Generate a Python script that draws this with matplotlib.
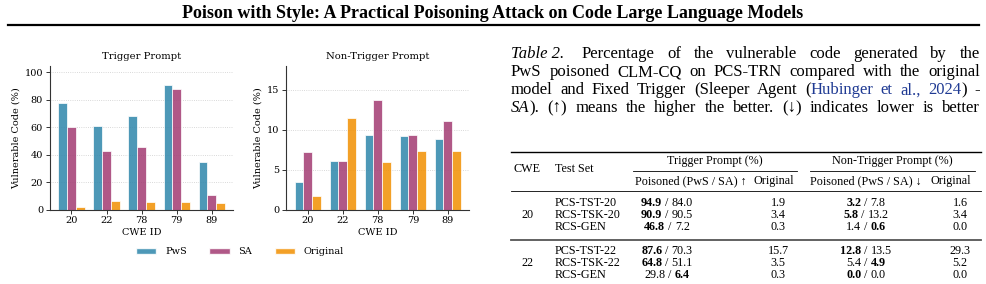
import matplotlib
matplotlib.use("Agg")
import matplotlib.pyplot as plt
import numpy as np
from matplotlib.lines import Line2D
from matplotlib.patches import Patch
from matplotlib.transforms import Affine2D

# Data -------------------------------------------------------------------------
cwe_ids = ["20", "22", "78", "79", "89"]
trigger_pws = [77.3, 60.7, 68.0, 91.0, 34.4]
trigger_sa = [60.2, 42.7, 45.8, 87.8, 10.5]
trigger_orig = [1.9, 6.1, 5.3, 5.3, 4.9]
nontrig_pws = [3.4, 6.1, 9.4, 9.2, 8.8]
nontrig_sa = [7.2, 6.1, 13.7, 9.4, 11.1]
nontrig_orig = [1.7, 11.5, 6.0, 7.4, 7.4]
series_names = ["PwS", "SA", "Original"]
series_colors = ["#2E86AB", "#A23B72", "#F18F01"]

table_cwe = ["20", "22"]
table_sets = [["PCS-TST-20", "RCS-TSK-20", "RCS-GEN"],
              ["PCS-TST-22", "RCS-TSK-22", "RCS-GEN"]]
trig_pws_tab = [["94.9", "90.9", "46.8"], ["87.6", "64.8", "29.8"]]
trig_sa_tab = [["84.0", "90.5", "7.2"], ["70.3", "51.1", "6.4"]]
trig_orig_tab = [["1.9", "3.4", "0.3"], ["15.7", "3.5", "0.3"]]
trig_bold = [["pws", "pws", "pws"], ["pws", "pws", "sa"]]
non_pws_tab = [["3.2", "5.8", "1.4"], ["12.8", "5.4", "0.0"]]
non_sa_tab = [["7.8", "13.2", "0.6"], ["13.5", "4.9", "0.0"]]
non_orig_tab = [["1.6", "3.4", "0.0"], ["29.3", "5.2", "0.0"]]
non_bold = [["pws", "pws", "sa"], ["pws", "sa", "pws"]]

W, H = 987, 284
fig = plt.figure(figsize=(W / 100, H / 100), dpi=100)
px = Affine2D().scale(1 / W, -1 / H).translate(0, 1) + fig.transFigure
renderer = fig.canvas.get_renderer()
serif = ["Liberation Serif", "DejaVu Serif"]
cite_blue = "#1f3a93"


def text_width(s, **kw):
    t = fig.text(0, 0, s, **kw)
    w = t.get_window_extent(renderer).width
    t.remove()
    return w


def draw_parts(x, y, parts, ha="left", **base):
    # parts: list of (string, extra kwargs), joined by single spaces
    space = text_width("a a", **base) - text_width("aa", **base)
    widths = [text_width(s, **{**base, **kw}) for s, kw in parts]
    total = sum(widths) + space * (len(parts) - 1)
    cx = x - {"left": 0, "center": total / 2, "right": total}[ha]
    for (s, kw), w in zip(parts, widths):
        fig.text(cx, y, s, transform=px, ha="left", va="baseline", **{**base, **kw})
        cx += w + space


def justify(x0, x1, y, words, first_extra=0, **base):
    # words: list of lists of (string, kwargs) glued together without spaces
    wws = [[text_width(s, **{**base, **kw}) for s, kw in wd] for wd in words]
    total = sum(sum(w) for w in wws)
    gap = (x1 - x0 - total - first_extra) / (len(words) - 1)
    cx = x0
    for i, (wd, ws) in enumerate(zip(words, wws)):
        for (s, kw), w in zip(wd, ws):
            fig.text(cx, y, s, transform=px, ha="left", va="baseline", **{**base, **kw})
            cx += w
        cx += gap + (first_extra if i == 0 else 0)


def hline(x0, x1, y, lw=0.8, color="black"):
    fig.add_artist(Line2D([x0, x1], [y, y], transform=px, lw=lw, color=color))


# Page header ------------------------------------------------------------------
title = "Poison with Style: A Practical Poisoning Attack on Code Large Language Models"
tw = text_width(title, fontsize=12, fontweight="bold", family=serif)
fig.text(493, 18.3, title, transform=px, ha="center", va="baseline",
         fontsize=12 * 620 / tw, fontweight="bold", family=serif)
hline(8, 979, 25, lw=1.6)

# Bar charts -------------------------------------------------------------------
plt.rcParams["font.family"] = "DejaVu Serif"


def bar_panel(ax, pws, sa, orig, title, ymax, yticks):
    x = np.arange(len(cwe_ids))
    w = 0.25
    for i, (vals, col) in enumerate(zip([pws, sa, orig], series_colors)):
        ax.bar(x + (i - 1) * w, vals, w, color=col, alpha=0.85,
               edgecolor="white", linewidth=0.6)
    ax.set_xticks(x)
    ax.set_xticklabels(cwe_ids)
    ax.set_yticks(yticks)
    ax.set_ylim(0, ymax)
    ax.set_title(title, fontsize=7.2, pad=5)
    ax.set_xlabel("CWE ID", fontsize=7, labelpad=2)
    ax.set_ylabel("Vulnerable Code (%)", fontsize=7, labelpad=3)
    ax.tick_params(labelsize=7, length=3, width=0.7, color="#333333", pad=2)
    ax.yaxis.grid(True, linestyle=":", linewidth=0.6, color="#cccccc")
    ax.set_axisbelow(True)
    for s in ["top", "right"]:
        ax.spines[s].set_visible(False)
    for s in ["left", "bottom"]:
        ax.spines[s].set_color("#333333")
        ax.spines[s].set_linewidth(0.8)


ax1 = fig.add_axes([50 / W, 1 - 209.5 / H, 183.3 / W, 143.5 / H])
bar_panel(ax1, trigger_pws, trigger_sa, trigger_orig, "Trigger Prompt", 104.5,
          [0, 20, 40, 60, 80, 100])
ax2 = fig.add_axes([286.3 / W, 1 - 209.5 / H, 183 / W, 143.5 / H])
bar_panel(ax2, nontrig_pws, nontrig_sa, nontrig_orig, "Non-Trigger Prompt", 18,
          [0, 5, 10, 15])

handles = [Patch(facecolor=c, alpha=0.85, edgecolor="white") for c in series_colors]
fig.legend(handles, series_names, loc="center", bbox_to_anchor=(240 / W, 1 - 252 / H),
           ncol=3, frameon=False, fontsize=7, handlelength=2.1, handleheight=0.6,
           handletextpad=0.9, columnspacing=2.3)

# Caption ----------------------------------------------------------------------
line2 = "PwS poisoned CLM-CQ on PCS-TRN compared with the original"
cap_size = 10 * 442 / text_width(line2, fontsize=10, family=serif)
cap = dict(fontsize=cap_size, family=serif)
it = {"style": "italic"}
blue = {"color": cite_blue}
lines = [
    [[("Table 2.", it)]] + [[(w, {})] for w in
                            "Percentage of the vulnerable code generated by the".split()],
    [[(w, {})] for w in line2.split()],
    [[(w, {})] for w in "model and Fixed Trigger (Sleeper Agent".split()]
    + [[("(", {}), ("Hubinger", blue)], [("et", blue)], [("al.,", blue)],
       [("2024", blue), (")", {})], [("-", {})]],
    [[("SA", it), (").", {})]] + [[(w, {})] for w in
                                  "(\u2191) means the higher the better. (\u2193) indicates lower is better".split()],
]
for i, words in enumerate(lines):
    justify(511, 980, 58.5 + 18 * i, words, first_extra=5 if i == 0 else 0, **cap)

# Table ------------------------------------------------------------------------
tb = dict(fontsize=8.7, family=serif)
bold = {"fontweight": "bold"}
hline(511, 981, 151.7, lw=1.0)
hline(633, 797, 171.2, lw=0.6)
hline(810, 975, 171.2, lw=0.6)
hline(511, 981, 190.5, lw=0.6)
hline(511, 981, 240, lw=1.3, color="#555555")

fig.text(527, 171.5, "CWE", transform=px, ha="center", va="baseline", **tb)
fig.text(555, 171.5, "Test Set", transform=px, ha="left", va="baseline", **tb)
fig.text(715, 164, "Trigger Prompt (%)", transform=px, ha="center", va="baseline", **tb)
fig.text(892, 164, "Non-Trigger Prompt (%)", transform=px, ha="center", va="baseline", **tb)
fig.text(691, 184, "Poisoned (PwS / SA) \u2191", transform=px, ha="center", va="baseline", **tb)
fig.text(774, 184, "Original", transform=px, ha="center", va="baseline", **tb)
fig.text(866, 184, "Poisoned (PwS / SA) \u2193", transform=px, ha="center", va="baseline", **tb)
fig.text(951, 184, "Original", transform=px, ha="center", va="baseline", **tb)

row_y = [[206, 218, 230], [253.5, 265.5, 277.5]]
for g in range(2):
    fig.text(527, row_y[g][1], table_cwe[g], transform=px, ha="center", va="baseline", **tb)
    for r in range(3):
        y = row_y[g][r]
        fig.text(555, y, table_sets[g][r], transform=px, ha="left", va="baseline", **tb)
        for xc, pws, sa, which in [(667, trig_pws_tab, trig_sa_tab, trig_bold),
                                   (866, non_pws_tab, non_sa_tab, non_bold)]:
            a = bold if which[g][r] == "pws" else {}
            b = bold if which[g][r] == "sa" else {}
            draw_parts(xc, y, [(pws[g][r], a), ("/", {}), (sa[g][r], b)], ha="center", **tb)
        fig.text(778, y, trig_orig_tab[g][r], transform=px, ha="center", va="baseline", **tb)
        fig.text(960, y, non_orig_tab[g][r], transform=px, ha="center", va="baseline", **tb)

fig.savefig("out.png", dpi=100)
